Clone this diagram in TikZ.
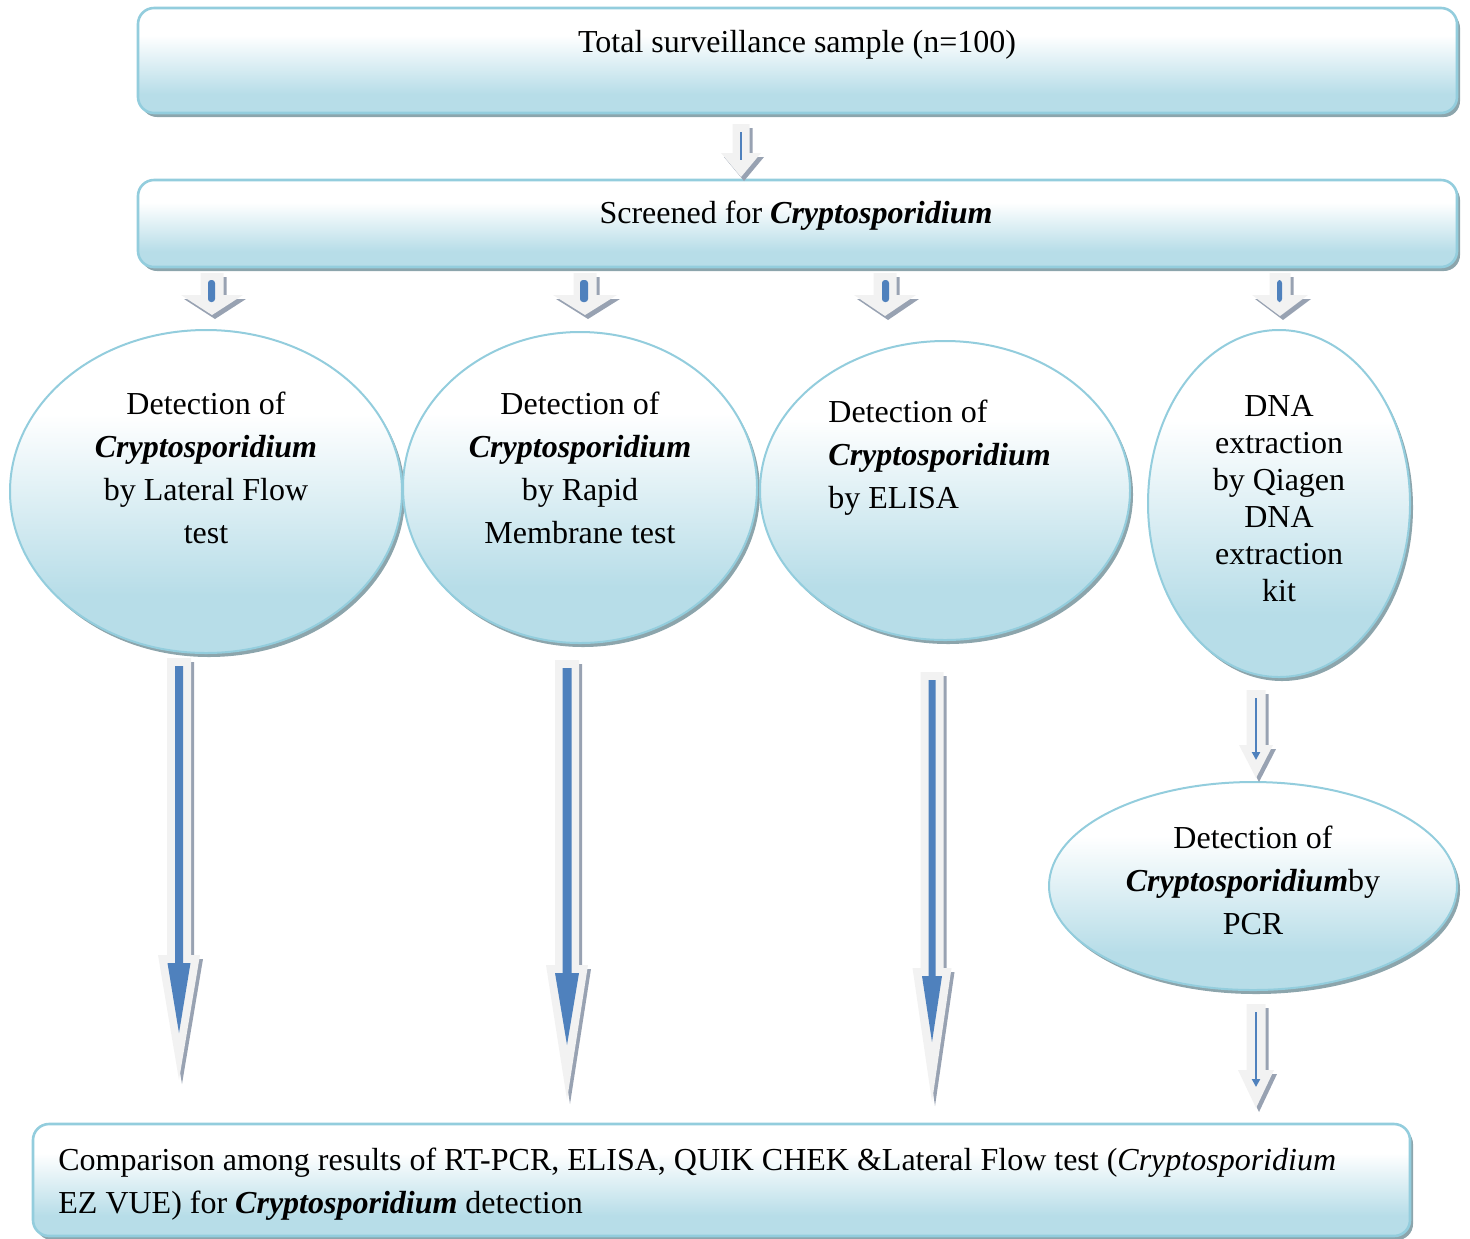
\documentclass[tikz,border=0pt]{standalone}
\usepackage{fontspec}
\setmainfont{Liberation Serif}
\usetikzlibrary{shapes.geometric,shadows,arrows.meta}
\definecolor{cB}{HTML}{B7DDE8}
\definecolor{bord}{HTML}{93CDDD}
\definecolor{shdc}{RGB}{140,165,172}
\definecolor{agray}{HTML}{F2F2F2}
\definecolor{ashd}{RGB}{152,162,178}
\definecolor{ablue}{HTML}{4F81BD}
\pgfdeclareverticalshading{boxshade}{100bp}{color(0bp)=(cB); color(34bp)=(cB); color(62bp)=(white); color(100bp)=(white)}
% #1 style, #2 cx, #3 ytop, #4 yhead, #5 ytip, #6 shaft half width, #7 head half width
\newcommand\arrfill[7]{\fill[#1] (#2-#6,#3) -- (#2+#6,#3) -- (#2+#6,#4) -- (#2+#7,#4) -- (#2,#5) -- (#2-#7,#4) -- (#2-#6,#4) -- cycle;}
\newcommand\blkarrow[6]{\arrfill{ashd,shift={(3,4)}}{#1}{#2}{#3}{#4}{#5}{#6}\arrfill{agray}{#1}{#2}{#3}{#4}{#5}{#6}}
\tikzset{
  dshadow/.style={drop shadow={shadow xshift=1.5pt, shadow yshift=-2pt, fill=shdc, opacity=1}},
  flowbox/.style={rectangle, rounded corners=8pt, draw=bord, line width=1.3pt, shading=boxshade, dshadow, inner sep=0pt},
  flowell/.style={ellipse, draw=bord, line width=1pt, shading=boxshade, dshadow, inner sep=0pt},
  txt/.style={font=\fontsize{16}{21.5}\selectfont, inner sep=0pt, align=center},
  thinarrow/.style={draw=ablue, line width=1pt, -{Triangle[length=4pt,width=4pt]}},
  bluebar/.style={fill=ablue, rounded corners=1.5pt}
}
\begin{document}
\begin{tikzpicture}[x=0.5pt,y=-0.5pt]
\useasboundingbox (0,0) rectangle (1470,1238);
% boxes and ellipses
\node[flowbox, minimum width=659.5pt, minimum height=52.5pt] (b1) at (797.5,60.5) {};
\node[flowbox, minimum width=659.5pt, minimum height=43.5pt] (b2) at (797.5,223.5) {};
\node[flowell, minimum width=196pt, minimum height=161.5pt] (e1) at (206,491.5) {};
\node[flowell, minimum width=177pt, minimum height=155.5pt] (e2) at (580,487.5) {};
\node[flowell, minimum width=185pt, minimum height=149.5pt] (e3) at (945,490.5) {};
\node[flowell, minimum width=131pt, minimum height=173.5pt] (e4) at (1279,503.5) {};
\node[flowell, minimum width=204pt, minimum height=104pt] (e5) at (1253,886) {};
\node[flowbox, minimum width=688.5pt, minimum height=56pt] (b3) at (721.5,1180) {};
% texts
\node[txt, anchor=base] (t1) at (797,52) {Total surveillance sample (n=100)};
\node[txt, anchor=base] (t2) at (796,223) {Screened for \textbf{\textit{Cryptosporidium}}};
\node[txt] (t3) at (206,468) {Detection of\\\textbf{\textit{Cryptosporidium}}\\by Lateral Flow\\test};
\node[txt] (t4) at (580,468) {Detection of\\\textbf{\textit{Cryptosporidium}}\\by Rapid\\Membrane test};
\node[txt, anchor=west, align=left] (t5) at (828,457.5) {Detection of\\\textbf{\textit{Cryptosporidium}}\\by ELISA};
\node[txt, font=\fontsize{16}{18.5}\selectfont] (t6) at (1279,499) {DNA\\extraction\\by Qiagen\\DNA\\extraction\\kit};
\node[txt] (t7) at (1253,880) {Detection of\\\textbf{\textit{Cryptosporidium}}by\\PCR};
\node[txt, anchor=west, align=left] (t8) at (58,1184) {Comparison among results of RT-PCR, ELISA, QUIK CHEK \&Lateral Flow test (\textit{Cryptosporidium}\\EZ VUE) for \textbf{\textit{Cryptosporidium}} detection};
% arrow box1 -> box2
\blkarrow{741}{124}{153}{177}{8.5}{20}
\draw[draw=ablue, line width=0.75pt] (741,132) -- (741,160);
% small arrows row
\blkarrow{212}{273}{295}{315}{11.5}{31}
\fill[bluebar] (208,280) rectangle (215,302);
\blkarrow{585}{273}{295}{315}{11.5}{32}
\fill[bluebar] (580,280) rectangle (588,302);
\blkarrow{885}{273}{295}{316}{11.5}{31}
\fill[bluebar] (882,280) rectangle (889,302);
\blkarrow{1280}{273}{295}{316}{10.5}{28}
\fill[bluebar] (1277,280) rectangle (1282,302);
% big arrows
\blkarrow{179}{658}{955}{1080}{12}{21}
\arrfill{ablue}{179}{666}{963}{1033}{4}{11.5}
\blkarrow{567}{660}{965}{1100}{12}{21}
\arrfill{ablue}{567}{668}{973}{1045}{4.5}{12}
\blkarrow{932}{672}{968}{1102}{11.5}{19.5}
\arrfill{ablue}{932}{680}{976}{1042}{3.5}{10}
% e4 -> e5, e5 -> b3
\blkarrow{1256}{690}{745}{778}{9.5}{17}
\draw[thinarrow] (1256,698) -- (1256,760);
\blkarrow{1256}{1004}{1070}{1108}{9.5}{18}
\draw[thinarrow] (1256,1012) -- (1256,1087);
\end{tikzpicture}
\end{document}
